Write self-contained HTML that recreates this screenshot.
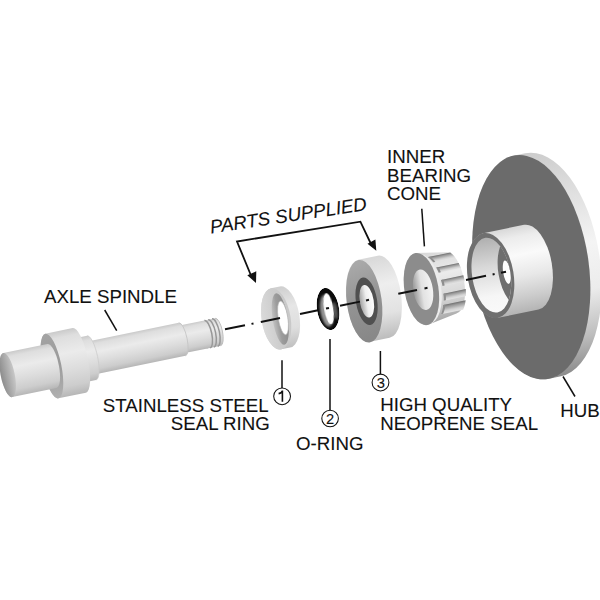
<!DOCTYPE html>
<html><head><meta charset="utf-8"><style>html,body{margin:0;padding:0;background:#fff;width:600px;height:600px;overflow:hidden}svg{display:block}</style></head>
<body><svg width="600" height="600" viewBox="0 0 600 600">
<defs><linearGradient id="g1" gradientUnits="userSpaceOnUse" x1="0" y1="-113" x2="0" y2="113"><stop offset="0" stop-color="#cccccc"/><stop offset="0.2" stop-color="#dedede"/><stop offset="0.45" stop-color="#f4f4f4"/><stop offset="0.65" stop-color="#ececec"/><stop offset="0.85" stop-color="#bdbdbd"/><stop offset="1" stop-color="#8c8c8c"/></linearGradient><linearGradient id="g2" gradientUnits="userSpaceOnUse" x1="0" y1="-42.3" x2="0" y2="43.7"><stop offset="0" stop-color="#d8d8d8"/><stop offset="0.12" stop-color="#ececec"/><stop offset="0.33" stop-color="#fafafa"/><stop offset="0.58" stop-color="#e8e8e8"/><stop offset="0.82" stop-color="#cccccc"/><stop offset="1" stop-color="#b4b4b4"/></linearGradient><linearGradient id="g3" gradientUnits="userSpaceOnUse" x1="0" y1="-43" x2="0" y2="43"><stop offset="0" stop-color="#a8a8a8"/><stop offset="0.4" stop-color="#d8d8d8"/><stop offset="0.75" stop-color="#f6f6f6"/><stop offset="1" stop-color="#fafafa"/></linearGradient><linearGradient id="g4" gradientUnits="userSpaceOnUse" x1="0" y1="-36.5" x2="0" y2="36.5"><stop offset="0" stop-color="#d8d8d8"/><stop offset="0.35" stop-color="#ebebeb"/><stop offset="0.7" stop-color="#d4d4d4"/><stop offset="1" stop-color="#a4a4a4"/></linearGradient><linearGradient id="g5" gradientUnits="userSpaceOnUse" x1="0" y1="-29.91" x2="0" y2="-23.74"><stop offset="0" stop-color="#707070"/><stop offset="0.25" stop-color="#9a9a9a"/><stop offset="0.7" stop-color="#d2d2d2"/><stop offset="1" stop-color="#e4e4e4"/></linearGradient><linearGradient id="g6" gradientUnits="userSpaceOnUse" x1="0" y1="-17.97" x2="0" y2="-12.58"><stop offset="0" stop-color="#707070"/><stop offset="0.25" stop-color="#9a9a9a"/><stop offset="0.7" stop-color="#d2d2d2"/><stop offset="1" stop-color="#e4e4e4"/></linearGradient><linearGradient id="g7" gradientUnits="userSpaceOnUse" x1="0" y1="-4.99" x2="0" y2="1.21"><stop offset="0" stop-color="#707070"/><stop offset="0.25" stop-color="#9a9a9a"/><stop offset="0.7" stop-color="#d2d2d2"/><stop offset="1" stop-color="#e4e4e4"/></linearGradient><linearGradient id="g8" gradientUnits="userSpaceOnUse" x1="0" y1="8.99" x2="0" y2="15.9"><stop offset="0" stop-color="#707070"/><stop offset="0.25" stop-color="#9a9a9a"/><stop offset="0.7" stop-color="#d2d2d2"/><stop offset="1" stop-color="#e4e4e4"/></linearGradient><linearGradient id="g9" gradientUnits="userSpaceOnUse" x1="0" y1="20" x2="0" y2="28.58"><stop offset="0" stop-color="#707070"/><stop offset="0.25" stop-color="#9a9a9a"/><stop offset="0.7" stop-color="#d2d2d2"/><stop offset="1" stop-color="#e4e4e4"/></linearGradient><linearGradient id="g10" gradientUnits="userSpaceOnUse" x1="192.5" y1="0" x2="211.5" y2="0"><stop offset="0" stop-color="#9a9a9a"/><stop offset="0.45" stop-color="#e2e2e2"/><stop offset="1" stop-color="#f4f4f4"/></linearGradient><linearGradient id="g11" gradientUnits="userSpaceOnUse" x1="0" y1="-41.5" x2="0" y2="41.5"><stop offset="0" stop-color="#d8d8d8"/><stop offset="0.35" stop-color="#eeeeee"/><stop offset="0.7" stop-color="#e2e2e2"/><stop offset="1" stop-color="#bcbcbc"/></linearGradient><linearGradient id="g12" gradientUnits="userSpaceOnUse" x1="132" y1="-35" x2="152" y2="35"><stop offset="0" stop-color="#a8a8a8"/><stop offset="0.5" stop-color="#939393"/><stop offset="1" stop-color="#888888"/></linearGradient><linearGradient id="g13" gradientUnits="userSpaceOnUse" x1="137.5" y1="0" x2="151.5" y2="0"><stop offset="0" stop-color="#a0a0a0"/><stop offset="0.5" stop-color="#eeeeee"/><stop offset="1" stop-color="#ffffff"/></linearGradient><filter id="b1" x="-50%" y="-50%" width="200%" height="200%"><feGaussianBlur stdDeviation="1.1"/></filter><filter id="b2" x="-50%" y="-50%" width="200%" height="200%"><feGaussianBlur stdDeviation="0.45"/></filter><linearGradient id="g14" gradientUnits="userSpaceOnUse" x1="0" y1="-31" x2="0" y2="31"><stop offset="0" stop-color="#cfcfcf"/><stop offset="0.35" stop-color="#e6e6e6"/><stop offset="0.7" stop-color="#dedede"/><stop offset="1" stop-color="#c0c0c0"/></linearGradient><linearGradient id="g15" gradientUnits="userSpaceOnUse" x1="37.7" y1="0" x2="66.7" y2="0"><stop offset="0" stop-color="#dadada"/><stop offset="0.5" stop-color="#cdcdcd"/><stop offset="1" stop-color="#c8c8c8"/></linearGradient><linearGradient id="g16" gradientUnits="userSpaceOnUse" x1="48.2" y1="0" x2="61.2" y2="0"><stop offset="0" stop-color="#c4c4c4"/><stop offset="0.5" stop-color="#9c9c9c"/><stop offset="1" stop-color="#909090"/></linearGradient><linearGradient id="g17" gradientUnits="userSpaceOnUse" x1="0" y1="-12.8" x2="0" y2="15.2"><stop offset="0" stop-color="#cacaca"/><stop offset="0.1" stop-color="#dedede"/><stop offset="0.35" stop-color="#ebebeb"/><stop offset="0.62" stop-color="#dcdcdc"/><stop offset="0.85" stop-color="#cdcdcd"/><stop offset="1" stop-color="#b6b6b6"/></linearGradient><linearGradient id="g18" gradientUnits="userSpaceOnUse" x1="0" y1="-12.8" x2="0" y2="15.2"><stop offset="0" stop-color="#cacaca"/><stop offset="0.1" stop-color="#dedede"/><stop offset="0.35" stop-color="#ebebeb"/><stop offset="0.62" stop-color="#dcdcdc"/><stop offset="0.85" stop-color="#cdcdcd"/><stop offset="1" stop-color="#b6b6b6"/></linearGradient><linearGradient id="g19" gradientUnits="userSpaceOnUse" x1="0" y1="-15.6" x2="0" y2="18"><stop offset="0" stop-color="#cacaca"/><stop offset="0.1" stop-color="#dedede"/><stop offset="0.35" stop-color="#ebebeb"/><stop offset="0.62" stop-color="#dcdcdc"/><stop offset="0.85" stop-color="#cdcdcd"/><stop offset="1" stop-color="#b6b6b6"/></linearGradient><linearGradient id="g20" gradientUnits="userSpaceOnUse" x1="0" y1="-21.3" x2="0" y2="23.7"><stop offset="0" stop-color="#cacaca"/><stop offset="0.1" stop-color="#dedede"/><stop offset="0.35" stop-color="#ebebeb"/><stop offset="0.62" stop-color="#dcdcdc"/><stop offset="0.85" stop-color="#cdcdcd"/><stop offset="1" stop-color="#b6b6b6"/></linearGradient><linearGradient id="g21" gradientUnits="userSpaceOnUse" x1="0" y1="-31.8" x2="0" y2="34.2"><stop offset="0" stop-color="#cacaca"/><stop offset="0.1" stop-color="#dedede"/><stop offset="0.35" stop-color="#ebebeb"/><stop offset="0.62" stop-color="#dcdcdc"/><stop offset="0.85" stop-color="#cdcdcd"/><stop offset="1" stop-color="#b6b6b6"/></linearGradient><linearGradient id="g22" gradientUnits="userSpaceOnUse" x1="0" y1="-33" x2="0" y2="33"><stop offset="0" stop-color="#a4a4a4"/><stop offset="0.5" stop-color="#9a9a9a"/><stop offset="1" stop-color="#b0b0b0"/></linearGradient><linearGradient id="g23" gradientUnits="userSpaceOnUse" x1="0" y1="-21.3" x2="0" y2="23.7"><stop offset="0" stop-color="#cacaca"/><stop offset="0.1" stop-color="#dedede"/><stop offset="0.35" stop-color="#ebebeb"/><stop offset="0.62" stop-color="#dcdcdc"/><stop offset="0.85" stop-color="#cdcdcd"/><stop offset="1" stop-color="#b6b6b6"/></linearGradient><linearGradient id="g24" gradientUnits="userSpaceOnUse" x1="-229" y1="0" x2="-215" y2="0"><stop offset="0" stop-color="#8c8c8c"/><stop offset="1" stop-color="#c8c8c8"/></linearGradient></defs>
<rect width="600" height="600" fill="#fff"/>
<g transform="translate(225 329.3) rotate(-11.59)"><path d="M317.39,-112.14 L329.39,-112.14 A57.5,113 3.5 0 1 319.61,113.54 L307.61,113.54 A57.5,113 3.5 0 1 317.39,-112.14Z" fill="url(#g1)" /><ellipse cx="312.5" cy="0.7" rx="57.5" ry="113" fill="#6b6b6b" transform="rotate(3.5 312.5 0.7)" /><path d="M272.2,-42.27 L313.93,-42.27 A21,43 2.4 0 1 311.07,43.67 L269.8,43.67 A23,43 2.4 0 1 272.2,-42.27Z" fill="url(#g2)" /><ellipse cx="271" cy="0.7" rx="23" ry="43" fill="#6f6f6f" transform="rotate(2.4 271 0.7)" /><clipPath id="bore"><ellipse cx="271.8" cy="0.39999999999999997" rx="19.2" ry="37.8" transform="rotate(2.4 271.8 0.39999999999999997)"/></clipPath><ellipse cx="271.8" cy="0.4" rx="19.2" ry="37.8" fill="url(#g3)" transform="rotate(2.4 271.8 0.4)" /><g clip-path="url(#bore)"><ellipse cx="299" cy="1.7" rx="20" ry="38" fill="#6e6e6e" transform="rotate(2.4 299 1.7)" /><ellipse cx="287.5" cy="0.7" rx="3.6" ry="11.8" fill="#ffffff" transform="rotate(2.4 287.5 0.7)" /></g><path d="M201.73,-36.47 L232.07,-30.98 A13,31 2.4 0 1 229.93,30.98 L199.27,36.47 A17,36.5 2.4 0 1 201.73,-36.47Z" fill="url(#g4)" /><polygon points="213.43,-29.91 214.14,-29.09 214.84,-28.19 215.51,-27.2 216.16,-26.12 216.78,-24.97 217.37,-23.74 240.07,-23.74 239.48,-24.97 238.86,-26.12 238.21,-27.2 237.54,-28.19 236.84,-29.09 236.13,-29.91" fill="url(#g5)"/><polygon points="213.43,-29.91 214.14,-29.09 214.84,-28.19 215.51,-27.2 216.16,-26.12 216.78,-24.97 217.37,-23.74 219.57,-23.74 218.98,-24.97 218.36,-26.12 217.71,-27.2 217.04,-28.19 216.34,-29.09 215.63,-29.91" fill="#8e8e8e"/><polygon points="219.46,-17.97 219.7,-17.11 219.92,-16.23 220.14,-15.34 220.34,-14.43 220.53,-13.51 220.71,-12.58 243.41,-12.58 243.23,-13.51 243.04,-14.43 242.84,-15.34 242.62,-16.23 242.4,-17.11 242.16,-17.97" fill="url(#g6)"/><polygon points="219.46,-17.97 219.7,-17.11 219.92,-16.23 220.14,-15.34 220.34,-14.43 220.53,-13.51 220.71,-12.58 222.91,-12.58 222.73,-13.51 222.54,-14.43 222.34,-15.34 222.12,-16.23 221.9,-17.11 221.66,-17.97" fill="#8e8e8e"/><polygon points="221.63,-4.99 221.69,-3.96 221.74,-2.93 221.78,-1.9 221.8,-0.86 221.8,0.17 221.79,1.21 244.49,1.21 244.5,0.17 244.5,-0.86 244.48,-1.9 244.44,-2.93 244.39,-3.96 244.33,-4.99" fill="url(#g7)"/><polygon points="221.63,-4.99 221.69,-3.96 221.74,-2.93 221.78,-1.9 221.8,-0.86 221.8,0.17 221.79,1.21 223.99,1.21 224,0.17 224,-0.86 223.98,-1.9 223.94,-2.93 223.89,-3.96 223.83,-4.99" fill="#8e8e8e"/><polygon points="221.25,8.99 221.09,10.18 220.91,11.36 220.72,12.52 220.5,13.67 220.26,14.79 220.01,15.9 242.71,15.9 242.96,14.79 243.2,13.67 243.42,12.52 243.61,11.36 243.79,10.18 243.95,8.99" fill="url(#g8)"/><polygon points="221.25,8.99 221.09,10.18 220.91,11.36 220.72,12.52 220.5,13.67 220.26,14.79 220.01,15.9 222.21,15.9 222.46,14.79 222.7,13.67 222.92,12.52 223.11,11.36 223.29,10.18 223.45,8.99" fill="#8e8e8e"/><polygon points="218.83,20 218.23,21.69 217.58,23.28 216.88,24.77 216.14,26.16 215.36,27.43 214.55,28.58 237.25,28.58 238.06,27.43 238.84,26.16 239.58,24.77 240.28,23.28 240.93,21.69 241.53,20" fill="url(#g9)"/><polygon points="218.83,20 218.23,21.69 217.58,23.28 216.88,24.77 216.14,26.16 215.36,27.43 214.55,28.58 216.75,28.58 217.56,27.43 218.34,26.16 219.08,24.77 219.78,23.28 220.43,21.69 221.03,20" fill="#8e8e8e"/><ellipse cx="202.7" cy="0.3" rx="17.5" ry="35.5" fill="#ececec" transform="rotate(2.4 202.7 0.3)" /><ellipse cx="200.5" cy="0" rx="17" ry="36.5" fill="#8c8c8c" transform="rotate(2.4 200.5 0)" /><ellipse cx="202" cy="1" rx="9.8" ry="20.5" fill="url(#g10)" transform="rotate(2.4 202 1)" /><path d="M144.44,-41.42 L164.44,-41.42 A17.5,41.5 4 0 1 159.56,41.42 L139.56,41.42 A17.5,41.5 4 0 1 144.44,-41.42Z" fill="url(#g11)" /><ellipse cx="142" cy="0.5" rx="17.5" ry="41.5" fill="url(#g12)" transform="rotate(4 142 0.5)" /><ellipse cx="144.3" cy="1" rx="10.6" ry="24" fill="#505050" transform="rotate(2.4 144.3 1)" /><ellipse cx="144.5" cy="1" rx="7" ry="16.5" fill="url(#g13)" transform="rotate(2.4 144.5 1)" /><clipPath id="oclip"><ellipse cx="105" cy="0.8" rx="11" ry="21.3" transform="rotate(2.4 105 0.8)"/></clipPath><g clip-path="url(#oclip)"><ellipse cx="105" cy="0.8" rx="11" ry="21.3" fill="#0a0a0a" transform="rotate(2.4 105 0.8)" /><ellipse cx="103.4" cy="2.3" rx="6.5" ry="16" fill="#959595" transform="rotate(2.4 103.4 2.3)" filter="url(#b1)"/><ellipse cx="111.8" cy="3.8" rx="2.2" ry="9" fill="#5a5a5a" transform="rotate(2.4 111.8 3.8)" filter="url(#b1)"/><ellipse cx="105.7" cy="0.6" rx="4.6" ry="15.6" fill="#ffffff" transform="rotate(2.4 105.7 0.6)" filter="url(#b2)"/></g><path d="M53.25,-30.98 L62.25,-30.98 A14.5,31 2.4 0 1 60.15,30.98 L51.15,30.98 A14.5,31 2.4 0 1 53.25,-30.98Z" fill="url(#g14)" /><ellipse cx="52.2" cy="0" rx="14.5" ry="31" fill="url(#g15)" transform="rotate(2.4 52.2 0)" /><ellipse cx="56.2" cy="1" rx="7.6" ry="26" fill="url(#g16)" transform="rotate(2.4 56.2 1)" /><ellipse cx="59.1" cy="0.5" rx="4.8" ry="17" fill="#ffffff" transform="rotate(2.4 59.1 0.5)" stroke="#b0b0b0" stroke-width="0.6"/><path d="M-21,-12.8 L-7.5,-12.8 A4.6,14 0 0 1 -7.5,15.2 L-21,15.2 A4.6,14 0 0 1 -21,-12.8Z" fill="url(#g17)" /><path d="M-18.4,-12.8 A4.6,14 0 0 1 -18.4,15.2" fill="none" stroke="#989898" stroke-width="1.5"/><path d="M-14.5,-12.8 A4.6,14 0 0 1 -14.5,15.2" fill="none" stroke="#989898" stroke-width="1.5"/><path d="M-10.6,-12.8 A4.6,14 0 0 1 -10.6,15.2" fill="none" stroke="#989898" stroke-width="1.5"/><path d="M-7.5,-12.8 A4.6,14 0 0 1 -7.5,15.2" fill="none" stroke="#bdbdbd" stroke-width="0.9"/><path d="M-44,-12.8 L-21,-12.8 A4.2,14 0 0 1 -21,15.2 L-44,15.2 A4.2,14 0 0 1 -44,-12.8Z" fill="url(#g18)" /><path d="M-132,-15.6 L-44,-15.6 A5,16.8 0 0 1 -44,18 L-132,18 A5,16.8 0 0 1 -132,-15.6Z" fill="url(#g19)" /><path d="M-44,-15.6 A5,16.8 0 0 1 -44,18" fill="none" stroke="#c4c4c4" stroke-width="0.8"/><path d="M-149,-21.3 L-136.5,-21.3 A6.2,22.5 0 0 1 -136.5,23.7 L-149,23.7 A6.2,22.5 0 0 1 -149,-21.3Z" fill="url(#g20)" /><path d="M-136.5,-21.3 A6.2,22.5 0 0 1 -136.5,23.7" fill="none" stroke="#cacaca" stroke-width="0.7"/><path d="M-177,-31.8 L-149,-31.8 A8.8,33 0 0 1 -149,34.2 L-177,34.2 A8.8,33 0 0 1 -177,-31.8Z" fill="url(#g21)" /><ellipse cx="-177" cy="1.2" rx="9.5" ry="33" fill="url(#g22)" /><path d="M-222,-21.3 L-177,-21.3 A7,22.5 0 0 1 -177,23.7 L-222,23.7 A7,22.5 0 0 1 -222,-21.3Z" fill="url(#g23)" /><ellipse cx="-222" cy="1.2" rx="7" ry="22.5" fill="url(#g24)" /></g>
<g stroke="#111" stroke-width="2" stroke-linecap="butt"><line x1="225" y1="329.3" x2="245" y2="325.2"/><line x1="251.5" y1="323.87" x2="253.5" y2="323.46"/><line x1="260.8" y1="321.96" x2="280" y2="318.03"/><line x1="300" y1="313.93" x2="318" y2="310.24"/><line x1="326" y1="308.6" x2="329" y2="307.98"/><line x1="340" y1="305.73" x2="360" y2="301.62"/><line x1="366" y1="300.4" x2="369" y2="299.78"/><line x1="398.3" y1="293.77" x2="417" y2="289.94"/><line x1="424.5" y1="288.4" x2="427.5" y2="287.79"/><line x1="466" y1="279.9" x2="486" y2="275.8"/><line x1="492.6" y1="274.44" x2="494.6" y2="274.03"/><line x1="501" y1="272.72" x2="506" y2="271.69"/></g>
<g stroke="#111" stroke-width="1.5" fill="none">
<line x1="104.7" y1="310" x2="116.7" y2="330.7"/>
<line x1="421.8" y1="208.8" x2="424.4" y2="246.4"/>
<line x1="282" y1="360.3" x2="282" y2="388"/>
<line x1="330" y1="339" x2="330" y2="410.2"/>
<line x1="380.4" y1="351" x2="380.4" y2="374.1"/>
<line x1="563" y1="376.5" x2="575" y2="396.5"/>
<polyline points="251,275.5 237,241.5 360.4,221.7 371,244" stroke-width="1.8"/>
</g>
<g fill="#111">
<polygon points="256,283 247.3,275.3 256.3,271.3"/>
<polygon points="376.3,250.8 367.5,243.8 375.4,239.4"/>
</g>

<g font-size="18.7" font-family="Liberation Sans, sans-serif" fill="#111" stroke="#111" stroke-width="0.1">
<text x="44" y="303">AXLE SPINDLE</text>
<text x="387" y="163">INNER</text>
<text x="387" y="181.7">BEARING</text>
<text x="387" y="200.4">CONE</text>
<text x="102.8" y="412">STAINLESS STEEL</text>
<text x="170.8" y="430.3">SEAL RING</text>
<text x="296" y="450">O-RING</text>
<text x="380.2" y="411.3">HIGH QUALITY</text>
<text x="380.2" y="429.6">NEOPRENE SEAL</text>
<text x="560.3" y="417.3">HUB</text>
<text x="0" y="0" font-style="italic" transform="translate(211 233.4) rotate(-8.5)">PARTS SUPPLIED</text>
</g>
<path d="M278.6,393.6 C280.6,393.3 282,392.6 282.4,390.6 L282.4,401.7" fill="none" stroke="#111" stroke-width="1.6"/>
<g fill="none" stroke="#111" stroke-width="1.05">
<circle cx="282.1" cy="396.3" r="8.4"/><circle cx="330.1" cy="418.5" r="8.3"/><circle cx="380.5" cy="382.5" r="8.4"/>
</g>
<g font-size="15.5" text-anchor="middle" font-family="Liberation Sans, sans-serif" fill="#111" stroke="#111" stroke-width="0.1">
<text transform="translate(330 423.9) scale(0.95 1)">2</text>
<text transform="translate(380.8 387.9) scale(0.95 1)">3</text>
</g>

</svg></body></html>
